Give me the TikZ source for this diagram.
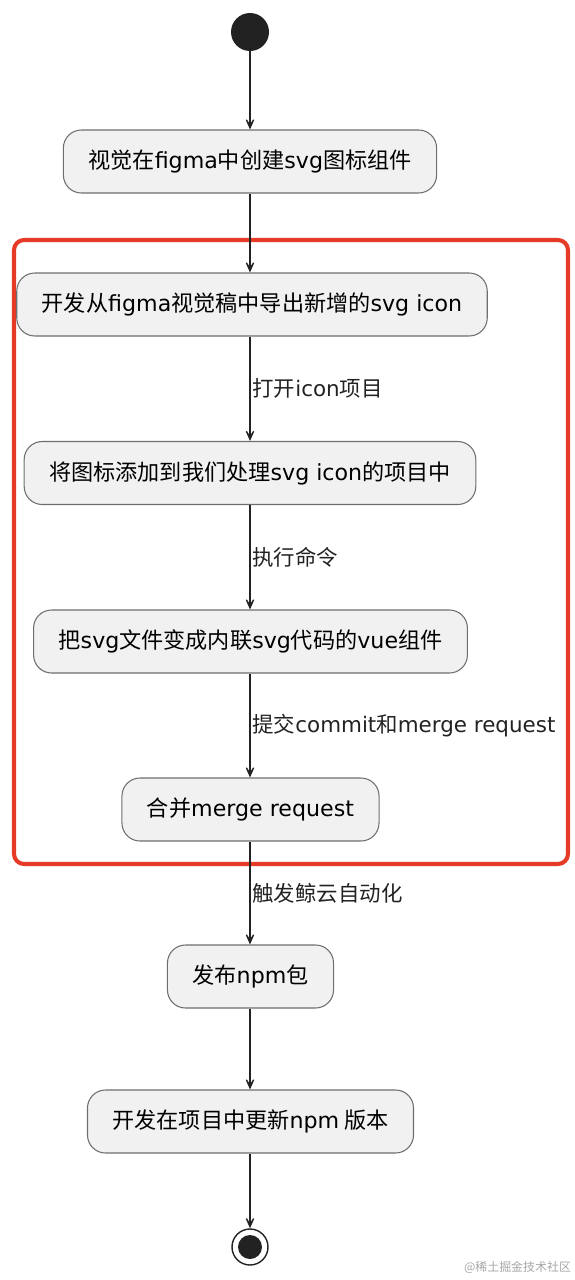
\documentclass[tikz,border=0pt]{standalone}
\usepackage{fontspec}
\setmainfont{Noto Sans CJK SC}
\newfontfamily\enfont{DejaVu Sans}
\newcommand{\en}[1]{{\enfont #1}}
\usetikzlibrary{positioning,arrows.meta}
\definecolor{boxgray}{RGB}{241,241,241}
\definecolor{edgegray}{RGB}{110,110,110}
\definecolor{markred}{RGB}{228,58,38}
\definecolor{inkblack}{RGB}{34,34,34}

\begin{document}
\begin{tikzpicture}[
    act/.style={
        draw=edgegray,
        line width=0.6pt,
        rounded corners=0.36cm,
        fill=boxgray,
        minimum height=1.26cm,
        inner xsep=0.5cm,
        font=\fontsize{12.6}{15}\selectfont
    },
    lbl/.style={
        right,
        inner xsep=1pt,
        font=\fontsize{12.2}{14}\selectfont
    },
    arr/.style={
        -{Stealth[length=3.6mm,width=3.2mm,inset=2.6mm]},
        line width=0.8pt,
        inkblack
    }
]
\useasboundingbox (0,0) rectangle (11.5,-25.6);

% ============================================================
% HIGHLIGHTED STEPS FRAME
% ============================================================

\draw[markred, line width=2.3pt, rounded corners=0.2cm]
    (0.28,-4.8) rectangle (11.36,-17.28);

% ============================================================
% ACTIVITIES — TOP TO BOTTOM
% ============================================================

\node[circle, fill=inkblack, minimum size=0.76cm, inner sep=0pt] (start) at (5.0,-0.64) {};

\node[act] (design) at (5.0,-3.23)
{视觉在\en{figma}中创建\en{svg}图标组件};

\node[act] (export) at (5.04,-6.09)
{开发从\en{figma}视觉稿中导出新增的\en{svg icon}};

\node[act] (addicon) at (5.0,-9.46)
{将图标添加到我们处理\en{svg icon}的项目中};

\node[act] (convert) at (5.01,-12.83)
{把\en{svg}文件变成内联\en{svg}代码的\en{vue}组件};

\node[act] (merge) at (5.01,-16.19)
{合并\en{merge request}};

\node[act] (publish) at (5.01,-19.53)
{发布\en{npm}包};

\node[act] (update) at (5.01,-22.43)
{开发在项目中更新\en{npm} 版本};

\node[circle, draw=inkblack, line width=0.8pt, minimum size=0.72cm, inner sep=0pt] (stop) at (5.0,-24.94) {};
\node[circle, fill=inkblack, minimum size=0.48cm, inner sep=0pt] (stopdot) at (stop.center) {};

% Arrows
\draw[arr] (start.south) -- (design.north);
\draw[arr] (design.south) -- (export.north -| design.south);
\draw[arr] (export.south -| design.south) -- (addicon.north -| design.south)
    node[lbl, midway] {打开\en{icon}项目};
\draw[arr] (addicon.south -| design.south) -- (convert.north -| design.south)
    node[lbl, midway] {执行命令};
\draw[arr] (convert.south -| design.south) -- (merge.north -| design.south)
    node[lbl, midway] {提交\en{commit}和\en{merge request}};
\draw[arr] (merge.south -| design.south) -- (publish.north -| design.south)
    node[lbl, midway] {触发鲸云自动化};
\draw[arr] (publish.south -| design.south) -- (update.north -| design.south);
\draw[arr] (update.south -| design.south) -- (stop.north);

% Watermark
\node[text=black!35, font=\fontsize{6.8}{8}\selectfont] (watermark) at (10.35,-25.34)
{@稀土掘金技术社区};

\end{tikzpicture}
\end{document}
